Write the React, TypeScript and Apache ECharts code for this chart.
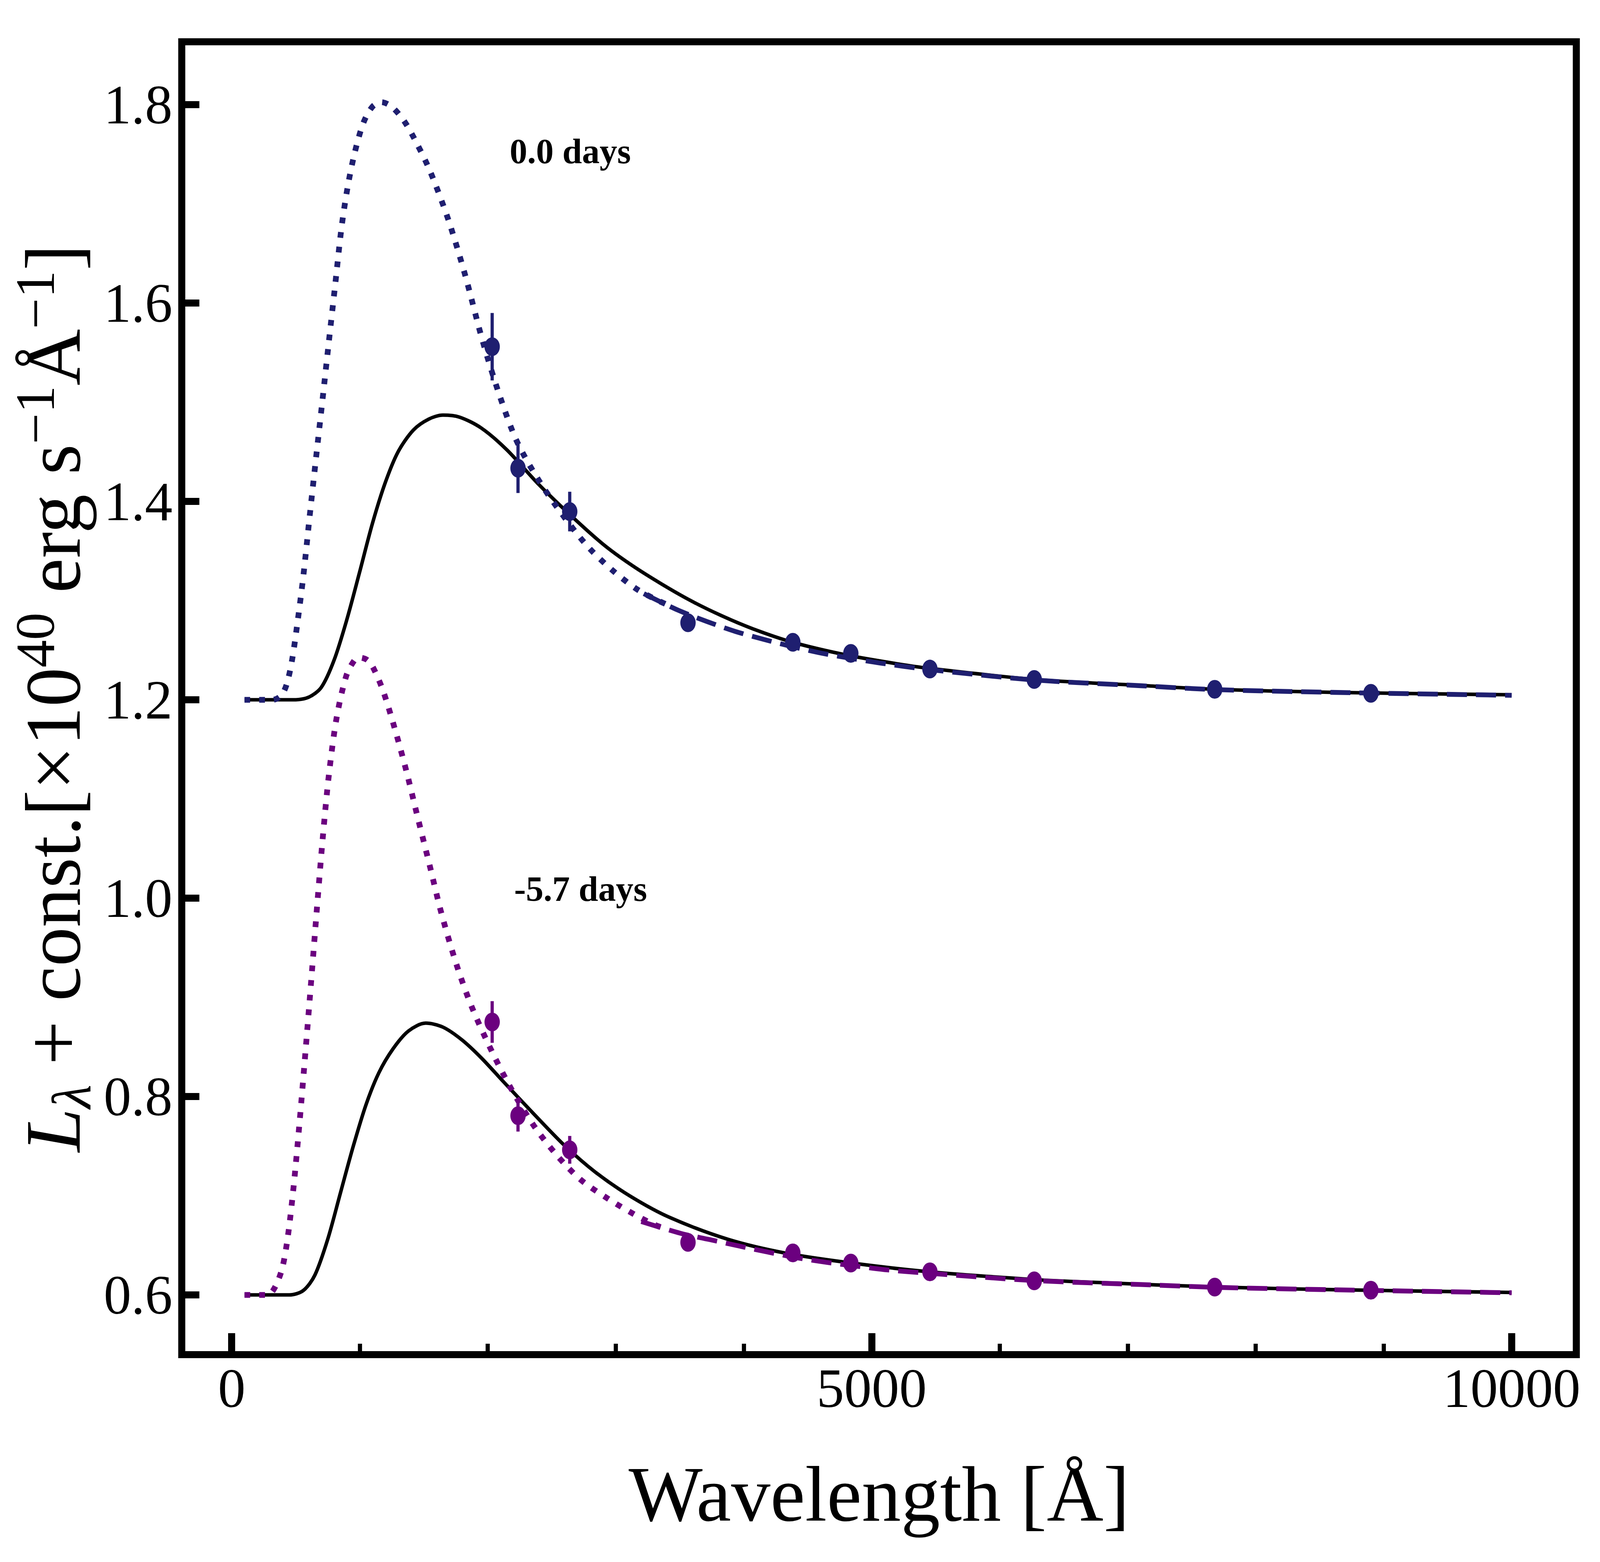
import React, { useEffect, useRef, useState } from "react";
import * as echarts from "echarts";

const FONT = "'Liberation Serif', 'Times New Roman', serif";
const BLUE = "#1F1F70";
const PURPLE = "#6B007F";

// axis ranges and ticks
const X_MIN = -390;
const X_MAX = 10505;
const Y_MIN = 0.5398;
const Y_MAX = 1.8634;
const X_MAJOR = [0, 5000, 10000];
const X_MINOR = [1000, 2000, 3000, 4000, 6000, 7000, 8000, 9000];
const Y_TICKS = [0.6, 0.8, 1.0, 1.2, 1.4, 1.6, 1.8];

// photometry (same wavelengths for both epochs)
const bandWave = [2035, 2237, 2641, 3565, 4384, 4837, 5455, 6270, 7680, 8900];
const fluxTop = [1.556, 1.4335, 1.3898, 1.2777, 1.258, 1.2468, 1.231, 1.2205, 1.2106, 1.2065];
const errTop = [0.034, 0.025, 0.02, 0.008, 0.005, 0.005, 0.004, 0.004, 0.003, 0.003];
const fluxBot = [0.8752, 0.7807, 0.7463, 0.653, 0.6424, 0.6321, 0.6233, 0.6142, 0.6079, 0.6048];
const errBot = [0.021, 0.016, 0.014, 0.006, 0.004, 0.004, 0.003, 0.003, 0.003, 0.003];

// 0.0 days: solid black model
const solidTopX = [100, 480, 600, 700, 800, 900, 1000, 1100, 1200, 1300, 1420, 1540, 1650, 1780, 1950, 2150, 2400, 2640, 2900, 3115, 3355, 3593, 3832, 4073, 4383, 4790, 5190, 5450, 6270, 7100, 7680, 8600, 10000];
const solidTopY = [1.2, 1.2, 1.2025, 1.2125, 1.24, 1.281, 1.329, 1.378, 1.419, 1.45, 1.472, 1.483, 1.487, 1.485, 1.474, 1.452, 1.417, 1.387, 1.357, 1.3366, 1.317, 1.2995, 1.2845, 1.2715, 1.258, 1.2455, 1.2365, 1.2317, 1.2205, 1.2145, 1.2106, 1.2075, 1.205];
// 0.0 days: dotted model
const dotTopX = [100, 320, 385, 428, 469, 510, 560, 610, 660, 710, 760, 810, 858, 906, 962, 1030, 1100, 1170, 1250, 1350, 1450, 1550, 1690, 1820, 1960, 2090, 2230, 2420, 2640, 2800, 2980, 3160, 3300, 3400];
const dotTopY = [1.2, 1.2, 1.204, 1.215, 1.238, 1.274, 1.325, 1.386, 1.445, 1.503, 1.562, 1.62, 1.676, 1.717, 1.752, 1.782, 1.798, 1.8025, 1.798, 1.783, 1.76, 1.733, 1.685, 1.63, 1.562, 1.508, 1.46, 1.417, 1.377, 1.352, 1.33, 1.312, 1.302, 1.296];
// 0.0 days: dashed model
const dashTopX = [3220, 3485, 3718, 3933, 4160, 4383, 4610, 4837, 5070, 5450, 6270, 7100, 7680, 8600, 10000];
const dashTopY = [1.307, 1.2905, 1.2787, 1.269, 1.2608, 1.2535, 1.247, 1.2418, 1.237, 1.2305, 1.22, 1.2142, 1.2103, 1.2075, 1.2045];

// -5.7 days: solid black model
const solidBotX = [100, 450, 560, 650, 750, 850, 950, 1050, 1150, 1260, 1380, 1516, 1650, 1800, 1950, 2123, 2364, 2606, 2849, 3121, 3424, 3879, 4333, 4852, 5437, 6270, 6774, 7680, 8608, 10000];
const solidBotY = [0.6, 0.6, 0.6045, 0.62, 0.656, 0.703, 0.75, 0.792, 0.824, 0.848, 0.866, 0.874, 0.87, 0.857, 0.839, 0.815, 0.782, 0.75, 0.723, 0.699, 0.678, 0.656, 0.642, 0.632, 0.6235, 0.6155, 0.6125, 0.608, 0.6053, 0.6025];
// -5.7 days: dotted model
const dotBotX = [100, 280, 335, 395, 440, 486, 531, 577, 622, 668, 713, 760, 820, 895, 960, 1001, 1060, 1107, 1183, 1274, 1365, 1456, 1547, 1638, 1759, 1880, 2031, 2183, 2364, 2546, 2728, 2940, 3148, 3300, 3400];
const dotBotY = [0.6, 0.6, 0.607, 0.627, 0.66, 0.712, 0.775, 0.846, 0.918, 0.993, 1.063, 1.125, 1.182, 1.224, 1.24, 1.2425, 1.24, 1.232, 1.209, 1.171, 1.128, 1.08, 1.033, 0.985, 0.932, 0.889, 0.846, 0.808, 0.77, 0.74, 0.716, 0.697, 0.681, 0.671, 0.666];
// -5.7 days: dashed model
const dashBotX = [3200, 3505, 3730, 3960, 4184, 4416, 4638, 4870, 5100, 5450, 6270, 7100, 7680, 8608, 10000];
const dashBotY = [0.674, 0.6622, 0.6559, 0.6494, 0.6433, 0.6375, 0.633, 0.6292, 0.6255, 0.6218, 0.6145, 0.6105, 0.6077, 0.6052, 0.6022];

// annotations
const labelTexts = ["0.0 days", "-5.7 days"];
const labelX = [2170, 2205];
const labelY = [1.7531, 1.0094];

const pairs = (xs: number[], ys: number[]) => xs.map((x, i) => [x, ys[i]]);

export default function App() {
  const ref = useRef<HTMLDivElement>(null);
  const [size] = useState(() => {
    const w = (typeof window !== "undefined" && window.innerWidth) || 5000;
    const h = (typeof window !== "undefined" && window.innerHeight) || 4000;
    return { w, h };
  });

  useEffect(() => {
    document.body.style.margin = "0";
    document.body.style.overflow = "hidden";
    const sx = size.w / 5000;
    const sy = size.h / 4000;
    const f = Math.min(sx, sy);
    const X = (v: number) => v * sx;
    const Y = (v: number) => v * sy;
    const F = (v: number) => v * f;
    const chart = echarts.init(ref.current as HTMLDivElement, undefined, { renderer: "svg" });

    const lineSeries = (xs: number[], ys: number[], color: string, width: number, type: any, z: number) => ({
      type: "line",
      data: pairs(xs, ys),
      showSymbol: false,
      symbol: "none",
      smooth: 0.3,
      lineStyle: { color, width: F(width), type, cap: "butt", join: "round" },
      z,
      silent: true,
    });

    const errSeries = (xs: number[], ys: number[], es: number[], color: string) => ({
      type: "custom",
      data: xs.map((x, i) => [x, ys[i] - es[i], ys[i] + es[i]]),
      encode: { x: 0, y: [1, 2] },
      z: 6,
      silent: true,
      renderItem: (params: any, api: any) => {
        const x = api.value(0);
        const p1 = api.coord([x, api.value(1)]);
        const p2 = api.coord([x, api.value(2)]);
        return {
          type: "line",
          shape: { x1: p1[0], y1: p1[1], x2: p2[0], y2: p2[1] },
          style: { stroke: color, lineWidth: F(10) },
        };
      },
    });

    const pointSeries = (xs: number[], ys: number[], color: string) => ({
      type: "scatter",
      data: pairs(xs, ys),
      symbol: "circle",
      symbolSize: [X(48), Y(48)],
      itemStyle: { color, opacity: 1 },
      z: 7,
      silent: true,
    });

    const yName =
      "{L|L}{sub|λ}{m| + const.[×10}{sup|40}{m| erg s}{sup|−1}{m|Å}{sup|−1}{m|]}";

    const option: any = {
      animation: false,
      backgroundColor: "#fff",
      grid: {
        left: X(568),
        right: X(74),
        top: Y(107),
        bottom: Y(531),
        show: true,
        borderColor: "#000",
        borderWidth: F(22),
        backgroundColor: "transparent",
      },
      xAxis: [
        {
          type: "value",
          min: X_MIN,
          max: X_MAX,
          position: "bottom",
          axisLine: { show: false, onZero: false },
          splitLine: { show: false },
          axisTick: {
            show: true,
            inside: true,
            length: Y(55),
            customValues: X_MAJOR,
            lineStyle: { color: "#000", width: F(22) },
          },
          axisLabel: {
            show: true,
            customValues: X_MAJOR,
            margin: Y(86) - F(86),
            fontSize: F(172),
            fontFamily: FONT,
            color: "#000",
            formatter: (v: number) => String(v),
          },
          name: "Wavelength [Å]",
          nameLocation: "middle",
          nameGap: Y(356) - F(122),
          nameTextStyle: { fontSize: F(245), fontFamily: FONT, color: "#000" },
        },
        {
          type: "value",
          min: X_MIN,
          max: X_MAX,
          position: "bottom",
          axisLine: { show: false, onZero: false },
          splitLine: { show: false },
          axisLabel: { show: false },
          axisTick: {
            show: true,
            inside: true,
            length: Y(28),
            customValues: X_MINOR,
            lineStyle: { color: "#000", width: F(13) },
          },
        },
      ],
      yAxis: {
        type: "value",
        min: Y_MIN,
        max: Y_MAX,
        position: "left",
        axisLine: { show: false, onZero: false },
        splitLine: { show: false },
        axisTick: {
          show: true,
          inside: true,
          length: X(55),
          customValues: Y_TICKS,
          lineStyle: { color: "#000", width: F(22) },
        },
        axisLabel: {
          show: true,
          customValues: Y_TICKS,
          margin: X(29),
          fontSize: F(172),
          fontFamily: FONT,
          color: "#000",
          formatter: (v: number) => v.toFixed(1),
        },
        name: yName,
        nameLocation: "middle",
        nameRotate: 90,
        nameGap: X(279),
        nameTextStyle: {
          fontSize: F(245),
          fontFamily: FONT,
          color: "#000",
          rich: {
            L: { fontFamily: FONT, fontStyle: "italic", fontSize: F(245), lineHeight: F(265), verticalAlign: "bottom", color: "#000" },
            m: { fontFamily: FONT, fontSize: F(245), lineHeight: F(265), verticalAlign: "bottom", color: "#000" },
            sub: { fontFamily: FONT, fontStyle: "italic", fontSize: F(172), height: F(128), verticalAlign: "bottom", color: "#000" },
            sup: { fontFamily: FONT, fontSize: F(172), verticalAlign: "top", color: "#000" },
          },
        },
      },
      series: [
        lineSeries(solidTopX, solidTopY, "#000", 11, "solid", 2),
        lineSeries(solidBotX, solidBotY, "#000", 11, "solid", 2),
        lineSeries(dotTopX, dotTopY, BLUE, 18, [F(18), F(28)], 3),
        lineSeries(dotBotX, dotBotY, PURPLE, 18, [F(18), F(28)], 3),
        lineSeries(dashTopX, dashTopY, BLUE, 15, [F(63), F(28)], 4),
        lineSeries(dashBotX, dashBotY, PURPLE, 15, [F(63), F(28)], 4),
        errSeries(bandWave, fluxTop, errTop, BLUE),
        errSeries(bandWave, fluxBot, errBot, PURPLE),
        pointSeries(bandWave, fluxTop, BLUE),
        pointSeries(bandWave, fluxBot, PURPLE),
        {
          type: "scatter",
          data: labelX.map((x, i) => ({ value: [x, labelY[i]], name: labelTexts[i] })),
          symbolSize: 1,
          itemStyle: { color: "rgba(0,0,0,0)", opacity: 1 },
          silent: true,
          z: 8,
          label: {
            show: true,
            position: "right",
            distance: 0,
            formatter: (p: any) => p.name,
            fontSize: F(110),
            fontWeight: "bold",
            fontFamily: FONT,
            color: "#000",
            opacity: 1,
          },
        },
      ],
    };
    chart.setOption(option);
    return () => chart.dispose();
  }, [size]);

  return <div ref={ref} style={{ width: size.w, height: size.h }} />;
}
